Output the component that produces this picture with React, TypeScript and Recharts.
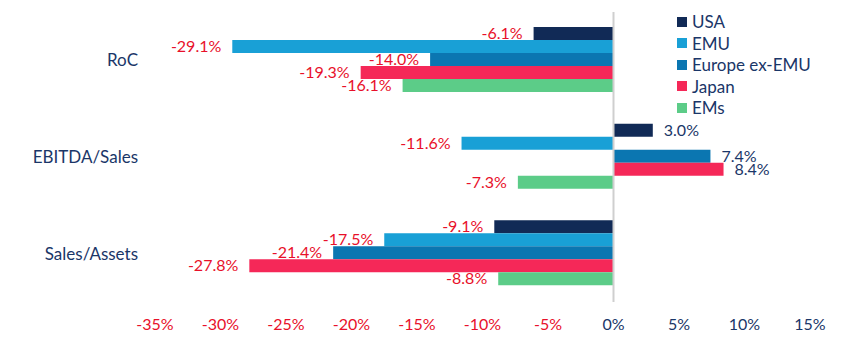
import React from "react";
import { BarChart, Bar, XAxis, YAxis, ReferenceLine, LabelList, Legend } from "recharts";

const categories = ["RoC", "EBITDA/Sales", "Sales/Assets"];
const seriesNames = ["USA", "EMU", "Europe ex-EMU", "Japan", "EMs"];
const usa = [-6.1, 3.0, -9.1];
const emu = [-29.1, -11.6, -17.5];
const europeExEmu = [-14.0, 7.4, -21.4];
const japan = [-19.3, 8.4, -27.8];
const ems = [-16.1, -7.3, -8.8];
const xTicks = [-35, -30, -25, -20, -15, -10, -5, 0, 5, 10, 15];

const seriesValues = [usa, emu, europeExEmu, japan, ems];
const seriesKeys = ["usa", "emu", "eur", "jpn", "ems"];
const colors = ["#112a56", "#19a0d6", "#0b76b1", "#f52858", "#5ccc88"];
const RED = "#e8102a";
const NAVY = "#1a3668";
const FONT = "Lato, 'Open Sans', sans-serif";

const data = categories.map((c, i) => {
  const row: Record<string, any> = { category: c };
  seriesKeys.forEach((k, j) => {
    row[k] = seriesValues[j][i];
  });
  return row;
});

const ValueLabel = (props: any) => {
  const { x, y, width, height, value } = props;
  const v = Number(value);
  const left = Math.min(x, x + width);
  const right = Math.max(x, x + width);
  const cy = y + height / 2;
  const neg = v < 0;
  return (
    <text
      x={neg ? left - 11 : right + 11}
      y={cy}
      dy="0.35em"
      textAnchor={neg ? "end" : "start"}
      fill={neg ? RED : NAVY}
      fontSize={16}
      fontFamily={FONT}
    >
      {v.toFixed(1) + "%"}
    </text>
  );
};

const XTick = (props: any) => {
  const { x, y, payload } = props;
  const v = payload.value;
  return (
    <text
      x={x}
      y={y}
      dy="0.71em"
      textAnchor="middle"
      fill={v < 0 ? RED : NAVY}
      fontSize={16}
      fontFamily={FONT}
    >
      {v + "%"}
    </text>
  );
};

const YTick = (props: any) => {
  const { x, y, payload } = props;
  return (
    <text x={x} y={y} dy="0.35em" textAnchor="end" fill={NAVY} fontSize={17} fontFamily={FONT}>
      {payload.value}
    </text>
  );
};

const LegendContent = () => (
  <div style={{ fontFamily: FONT, fontSize: 17, color: NAVY }}>
    {seriesNames.map((n, i) => (
      <div key={n} style={{ display: "flex", alignItems: "center", height: 21.5 }}>
        <span
          style={{
            display: "inline-block",
            width: 10,
            height: 10,
            background: colors[i],
            marginRight: 5,
          }}
        />
        <span>{n}</span>
      </div>
    ))}
  </div>
);

export default function App() {
  return (
    <div style={{ position: "absolute", left: 0, top: 0, background: "#fff" }}>
      <BarChart
        width={851}
        height={356}
        data={data}
        layout="vertical"
        margin={{ top: 12, right: 41, bottom: 0, left: 0 }}
        barCategoryGap="15.5%"
        barGap={0}
      >
        <XAxis
          type="number"
          domain={[-35, 15]}
          ticks={xTicks}
          axisLine={false}
          tickLine={false}
          tickSize={0}
          tickMargin={17}
          height={54}
          tick={<XTick />}
          interval={0}
        />
        <YAxis
          type="category"
          dataKey="category"
          width={155}
          axisLine={false}
          tickLine={false}
          tickSize={0}
          tickMargin={17}
          tick={<YTick />}
        />
        <Legend
          layout="horizontal"
          verticalAlign="middle"
          align="center"
          content={<LegendContent />}
          wrapperStyle={{ position: "absolute", left: 677, top: 11, width: 170 }}
        />
        {seriesKeys.map((k, i) => (
          <Bar key={k} dataKey={k} name={seriesNames[i]} fill={colors[i]} isAnimationActive={false}>
            <LabelList dataKey={k} content={<ValueLabel />} />
          </Bar>
        ))}
        <ReferenceLine x={0} stroke="#cfcfcf" strokeWidth={2} ifOverflow="extendDomain" />
      </BarChart>
    </div>
  );
}
